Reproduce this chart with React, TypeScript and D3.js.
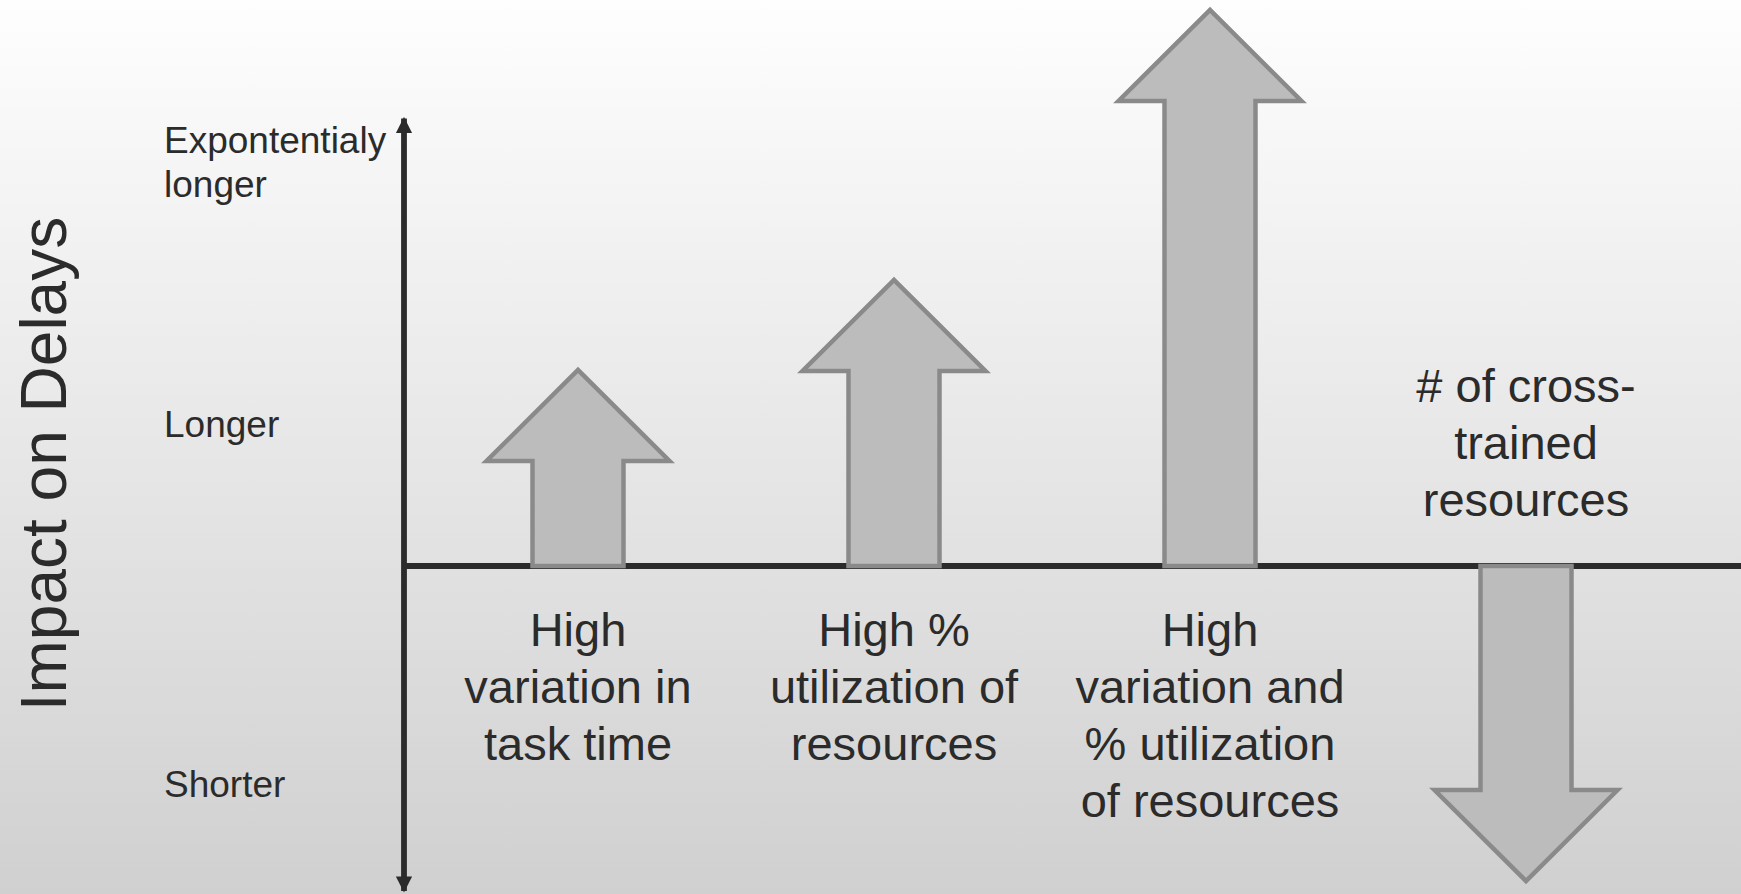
import React from "react";
import * as d3 from "d3";

// Factors and their qualitative impact on delays (units above/below "no change")
const categories = [
  "High variation in task time",
  "High % utilization of resources",
  "High variation and % utilization of resources",
  "# of cross-trained resources",
];
const impact = [1.96, 2.86, 5.56, -3.15];
const categoryLines = [
  ["High", "variation in", "task time"],
  ["High %", "utilization of", "resources"],
  ["High", "variation and", "% utilization", "of resources"],
  ["# of cross-", "trained", "resources"],
];
const tickLabels = [
  ["Expontentialy", "longer"],
  ["Longer"],
  ["Shorter"],
];
const tickValues = [4.04, 1.42, -2.18];
const axisTitle = "Impact on Delays";

const W = 1741;
const H = 894;
const FONT = "'Liberation Sans', Arial, Helvetica, sans-serif";
const INK = "#2b2b2b";

export default function App() {
  const axisX = 404;
  const y = d3.scaleLinear().domain([-3.25, 5.6]).range([891, 6]);
  const x = d3.scalePoint<string>().domain(categories).range([578, 1526]);
  const y0 = y(0);

  const headH = 91;
  const headHalf = 91.5;
  const shaftHalf = 45.5;

  const arrowPath = (cx: number, v: number) => {
    const tip = y(v);
    const dir = v >= 0 ? 1 : -1; // head base sits below the tip for up arrows
    const hb = tip + dir * headH;
    const p = d3.path();
    p.moveTo(cx - shaftHalf, y0);
    p.lineTo(cx - shaftHalf, hb);
    p.lineTo(cx - headHalf, hb);
    p.lineTo(cx, tip);
    p.lineTo(cx + headHalf, hb);
    p.lineTo(cx + shaftHalf, hb);
    p.lineTo(cx + shaftHalf, y0);
    p.closePath();
    return p.toString();
  };

  const lineH = 57;
  const catFont = 47;

  return (
    <div style={{ position: "fixed", left: 0, top: 0, width: W, height: H }}>
      <svg width={W} height={H} style={{ display: "block" }}>
        <defs>
          <linearGradient id="bg" x1="0" y1="0" x2="0" y2="1">
            <stop offset="0" stopColor="#fefefe" />
            <stop offset="1" stopColor="#d0d0d0" />
          </linearGradient>
          <marker
            id="axisHead"
            viewBox="0 0 10 10"
            refX="9"
            refY="5"
            markerWidth="2.8"
            markerHeight="3"
            orient="auto-start-reverse"
            markerUnits="strokeWidth"
          >
            <path d="M0,0 L10,5 L0,10 Z" fill={INK} />
          </marker>
        </defs>
        <rect x={0} y={0} width={W} height={H} fill="url(#bg)" />

        {/* axes */}
        <line
          x1={axisX}
          x2={axisX}
          y1={y(-3.25)}
          y2={118.5}
          stroke={INK}
          strokeWidth={5.8}
          markerStart="url(#axisHead)"
          markerEnd="url(#axisHead)"
        />
        <line x1={axisX} x2={W} y1={y0} y2={y0} stroke={INK} strokeWidth={5.8} />

        {/* axis title */}
        <text
          transform={`translate(66,${464}) rotate(-90)`}
          textAnchor="middle"
          fontFamily={FONT}
          fontSize={64}
          fill={INK}
        >
          {axisTitle}
        </text>

        {/* qualitative tick labels */}
        {tickLabels.map((lines, i) => {
          const cy = y(tickValues[i]);
          const lh = 44;
          const start = cy - ((lines.length - 1) * lh) / 2;
          return (
            <text key={i} fontFamily={FONT} fontSize={37} fill={INK}>
              {lines.map((l, j) => (
                <tspan key={j} x={164} y={start + j * lh} dy="0.35em">
                  {l}
                </tspan>
              ))}
            </text>
          );
        })}

        {/* impact arrows */}
        {categories.map((c, i) => (
          <path
            key={c}
            d={arrowPath(x(c)!, impact[i])}
            fill="#bcbcbc"
            stroke="#8a8a8a"
            strokeWidth={4.5}
          />
        ))}

        {/* category labels: below the axis for up arrows, above for down arrows */}
        {categories.map((c, i) => {
          const lines = categoryLines[i];
          const up = impact[i] >= 0;
          const start = up ? y0 + 64 : y0 - 66 - (lines.length - 1) * lineH;
          return (
            <text
              key={c}
              textAnchor="middle"
              fontFamily={FONT}
              fontSize={catFont}
              fill={INK}
            >
              {lines.map((l, j) => (
                <tspan key={j} x={x(c)!} y={start + j * lineH} dy="0.35em">
                  {l}
                </tspan>
              ))}
            </text>
          );
        })}
      </svg>
    </div>
  );
}
